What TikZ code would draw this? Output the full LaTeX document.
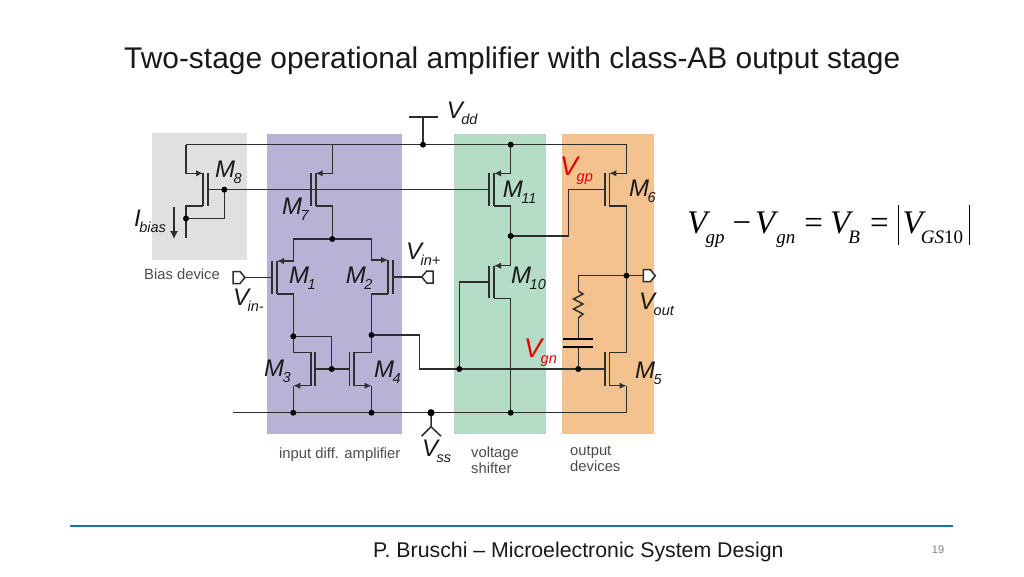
\documentclass[tikz,border=0pt]{standalone}
\usepackage{fontspec}
\setmainfont{Liberation Sans}
\newfontfamily\eqfont{Liberation Serif}
\usetikzlibrary{arrows.meta}
\definecolor{wirecol}{HTML}{2E2E2E}
\definecolor{biasbg}{HTML}{E0E0E0}
\definecolor{diffbg}{HTML}{B8B3D6}
\definecolor{shiftbg}{HTML}{B4DCC6}
\definecolor{outbg}{HTML}{F4C28F}
\definecolor{footblue}{HTML}{1277B5}
\newcommand{\sbs}[1]{\hspace{-1.5pt}\raisebox{-6pt}{\fontsize{14.5}{15}\selectfont #1}}
\newcommand{\eqsub}[1]{\raisebox{-10pt}{\fontsize{19}{19}\selectfont #1}}
\tikzset{
	wire/.style={draw=wirecol, line width=1.5pt},
	srcwire/.style={wire, -{Latex[length=7pt,width=6.5pt]}},
	plate/.style={draw=wirecol, line width=1.6pt},
	junction/.style={fill=black, radius=3},
	lab/.style={anchor=base west, inner sep=0pt, text=black!90, font=\fontsize{24}{24}\selectfont\itshape},
	redlab/.style={lab, text=red!90!black, font=\fontsize{27}{27}\selectfont\itshape},
	small/.style={anchor=base west, inner sep=0pt, text=black!70, font=\fontsize{14.8}{15}\selectfont},
}
\begin{document}
\begin{tikzpicture}[x=1pt,y=-1pt]
	\useasboundingbox (0,0) rectangle (1024,576);

	% Panels
	\fill[biasbg] (151.7,132.7) rectangle (247.3,259.7);
	\fill[diffbg] (266.7,133.7) rectangle (401.7,434);
	\fill[shiftbg] (454.3,133.7) rectangle (546,434);
	\fill[outbg] (562,133.7) rectangle (654,434);

	% Title and footer
	\node[anchor=base west, inner sep=0pt, text=black!90, font=\fontsize{29.9}{30}\selectfont] (title) at (124,68) {Two-stage operational amplifier with class-AB output stage};
	\draw[footblue, line width=2.6pt] (70,526) -- (953,526);
	\node[anchor=base west, inner sep=0pt, text=black!90, font=\fontsize{21.3}{22}\selectfont] (footer) at (373,557) {P. Bruschi – Microelectronic System Design};
	\node[anchor=base, inner sep=0pt, text=black!50, font=\fontsize{11}{11}\selectfont] (pagenum) at (938,553) {19};

	% Transistors: name/plate x/channel x/top y/bottom y
	\foreach \name/\xp/\xc/\yt/\yb in {
		M8/207.7/203/173.3/206, M7/310.7/315.7/173.3/206,
		M1/272/277/261/294, M2/392.7/388/260/294,
		M3/315/310.7/352.3/385.7, M4/349.3/354/352.3/385.7,
		M11/489/494/173.3/206, M10/489/494/265.7/298.3,
		M6/604.7/609.3/173.3/206, M5/604.7/609.3/352.3/385.7}{
		\draw[plate] (\xp,\yt) -- (\xp,\yb);
		\draw[plate] (\xc,\yt) coordinate (\name t) -- (\xc,\yb) coordinate (\name b);
		\coordinate (\name g) at (\xp,{(\yt+\yb)/2});
	}

	% Junctions
	\coordinate (vddtap) at (423,144.7);
	\coordinate (rail11) at (510.7,144.7);
	\coordinate (railm7) at (332.3,144.7);
	\coordinate (railm8) at (186,144.7);
	\coordinate (railm6) at (626.5,144.7);
	\coordinate (m8gate) at (224.3,189.65);
	\coordinate (m8drain) at (186,218.5);
	\coordinate (tail) at (332.3,239);
	\coordinate (d1) at (293.3,336.3);
	\coordinate (d2) at (371.5,335);
	\coordinate (g34) at (331.7,369);
	\coordinate (gn10) at (459.3,369);
	\coordinate (gn5) at (578.3,369);
	\coordinate (gp) at (510.7,236);
	\coordinate (vout) at (626.5,275.7);
	\coordinate (ssleft) at (233.3,412.7);
	\coordinate (ss3) at (293.3,412.7);
	\coordinate (ss4) at (371.5,412.7);
	\coordinate (vss) at (431,412.7);
	\coordinate (ss10) at (510.7,412.7);
	\coordinate (ssright) at (626.5,412.7);

	% Supply rails
	\draw[wire] (railm8) -- (railm6);
	\draw[wire] (ssleft) -- (ssright);
	\draw[wire] (409,117) coordinate (vddl) -- (438.3,117) coordinate (vddr);
	\draw[wire] (vddtap) -- (vddtap |- vddl);
	\draw[wire] (vss) -- ++(0,14) coordinate (vssfork) -- ++(-9.5,9.5) coordinate (vssa);
	\draw[wire] (vssfork) -- ++(10,9.5) coordinate (vssb);

	% Bias branch
	\draw[srcwire] (railm8) |- (M8t);
	\draw[wire] (M8b) -| (186,237.7) coordinate (ibiasend);
	\draw[wire] (m8drain) -| (m8gate);
	\draw[wire] (M8g) -- (M11g);
	\draw[-{Latex[length=8pt,width=8pt]}, wirecol, line width=1.2pt] (174,207) coordinate (ibiastop) -- (174,239) coordinate (ibiastip);

	% Input pair and mirror
	\draw[srcwire] (railm7) |- (M7t);
	\draw[wire] (M7b) -| (tail);
	\draw[srcwire] (tail) -| (293.3,261) -- (M1t);
	\draw[srcwire] (tail) -| (371.5,260) -- (M2t);
	\draw[wire] (M1b) -| (d1);
	\draw[wire] (M2b) -| (d2);
	\draw[wire] (d1) |- (M3t);
	\draw[wire] (d2) |- (M4t);
	\draw[wire] (d1) -| (g34);
	\draw[wire] (M3g) -- (M4g);
	\draw[srcwire] (M3b) -- (M3b -| ss3);
	\draw[srcwire] (M4b) -- (M4b -| ss4);
	\draw[wire] (M3b -| ss3) -- (ss3);
	\draw[wire] (M4b -| ss4) -- (ss4);

	% Level shifter
	\draw[srcwire] (rail11) |- (M11t);
	\draw[wire] (M11b) -| (gp);
	\draw[srcwire] (gp) |- (M10t);
	\draw[wire] (M10b) -| (ss10);
	\draw[wire] (gn10) |- (M10g);

	% Output stage
	\draw[srcwire] (railm6) |- (M6t);
	\draw[wire] (M6b) -| (vout);
	\draw[wire] (vout) |- (M5t);
	\draw[srcwire] (M5b) -- (M5b -| ssright);
	\draw[wire] (M5b -| ssright) -- (ssright);
	\draw[wire] (gp) -| (568.3,189.65) -- (M6g);
	\draw[wire] (d2) -| (419.3,369) -- (M5g);

	% Compensation
	\coordinate (restop) at (578.3,291);
	\coordinate (resbot) at (578.3,318);
	\coordinate (captop) at (578.3,338.7);
	\coordinate (capbot) at (578.3,347);
	\draw[wire] (vout) -| (restop);
	\draw[wire] (restop) -- ++(4.7,3) -- ++(-9.5,5) -- ++(9.5,5) -- ++(-9.5,5) -- ++(9.5,5) -- (resbot);
	\draw[wire] (resbot) -- (captop);
	\draw[wire] (capbot) -- (gn5);
	\draw[black, line width=2.2pt] (563.3,338.7) -- (593.3,338.7);
	\draw[black, line width=2.2pt] (563.3,347) -- (593.3,347);

	% Ports
	\coordinate (portm) at (245,277.5);
	\coordinate (portp) at (421.7,277);
	\coordinate (porto) at (643.3,275.7);
	\draw[wire] (portm) -- (M1g);
	\draw[wire] (portp) -- (M2g);
	\draw[wire] (vout) -- (porto);
	\draw[wire, fill=white] (portm) -- ++(-5,-6) -- ++(-7,0) -- ++(0,12) -- ++(7,0) -- cycle;
	\draw[wire, fill=white] (portp) -- ++(5,-6) -- ++(6.5,0) -- ++(0,12) -- ++(-6.5,0) -- cycle;
	\draw[wire, fill=white] (porto) ++(0,-6) -- ++(7,0) -- ++(5,6) -- ++(-5,6) -- ++(-7,0) -- cycle;

	% Dots
	\foreach \pt in {vddtap, rail11, m8gate, m8drain, tail, d1, d2, g34, gn10, gn5, gp, vout, ss3, ss4, ss10}
		\fill[junction] (\pt) circle;
	\fill[black] (vss) circle (3.6);

	% Transistor labels
	\node[lab] (labM8) at (215,177) {M\sbs{8}};
	\node[lab] (labM7) at (282,214) {M\sbs{7}};
	\node[lab] (labM1) at (289,283) {M\sbs{1}};
	\node[lab] (labM2) at (345.7,283) {M\sbs{2}};
	\node[lab] (labM3) at (264,376) {M\sbs{3}};
	\node[lab] (labM4) at (374,377) {M\sbs{4}};
	\node[lab] (labM11) at (502.7,197) {M\sbs{11}};
	\node[lab] (labM10) at (511,283) {M\sbs{10}};
	\node[lab] (labM6) at (629,196) {M\sbs{6}};
	\node[lab] (labM5) at (635,378) {M\sbs{5}};

	% Signal labels
	\node[lab] (labIbias) at (134,226) {I\sbs{bias}};
	\node[lab] (labVdd) at (446.7,118) {V\sbs{dd}};
	\node[lab] (labVss) at (422,456) {V\sbs{ss}};
	\node[lab] (labVinp) at (406,259) {V\sbs{in+}};
	\node[lab] (labVinm) at (233,305) {V\sbs{in-}};
	\node[lab] (labVout) at (639,309) {V\sbs{out}};
	\node[redlab] (labVgp) at (560,175) {V\sbs{gp}};
	\node[redlab] (labVgn) at (524,357) {V\sbs{gn}};

	% Block captions
	\node[small] (capbias) at (144,279) {Bias device};
	\node[small] (capdiff) at (279,458) {input diff. amplifier};
	\node[small] (capshift1) at (471,457) {voltage};
	\node[small] (capshift2) at (471,473) {shifter};
	\node[small] (capout1) at (570,455) {output};
	\node[small] (capout2) at (570,471) {devices};

	% Equation
	\node[anchor=base west, inner sep=0pt, text=black, font=\eqfont\fontsize{33}{33}\selectfont] (vbeq) at (687,233) {\textit{V}\hspace{-5pt}\eqsub{\textit{gp}}\hspace{8pt}−\hspace{4pt}\textit{V}\hspace{-2pt}\eqsub{\textit{gn}}\hspace{9pt}=\hspace{7pt}\textit{V}\hspace{-5pt}\eqsub{\textit{B}}\hspace{10pt}=\hspace{9pt}\rule[-12pt]{1pt}{40pt}\hspace{4pt}\textit{V}\hspace{-5pt}\eqsub{\textit{GS}10}\hspace{6pt}\rule[-12pt]{1pt}{40pt}};
\end{tikzpicture}
\end{document}
